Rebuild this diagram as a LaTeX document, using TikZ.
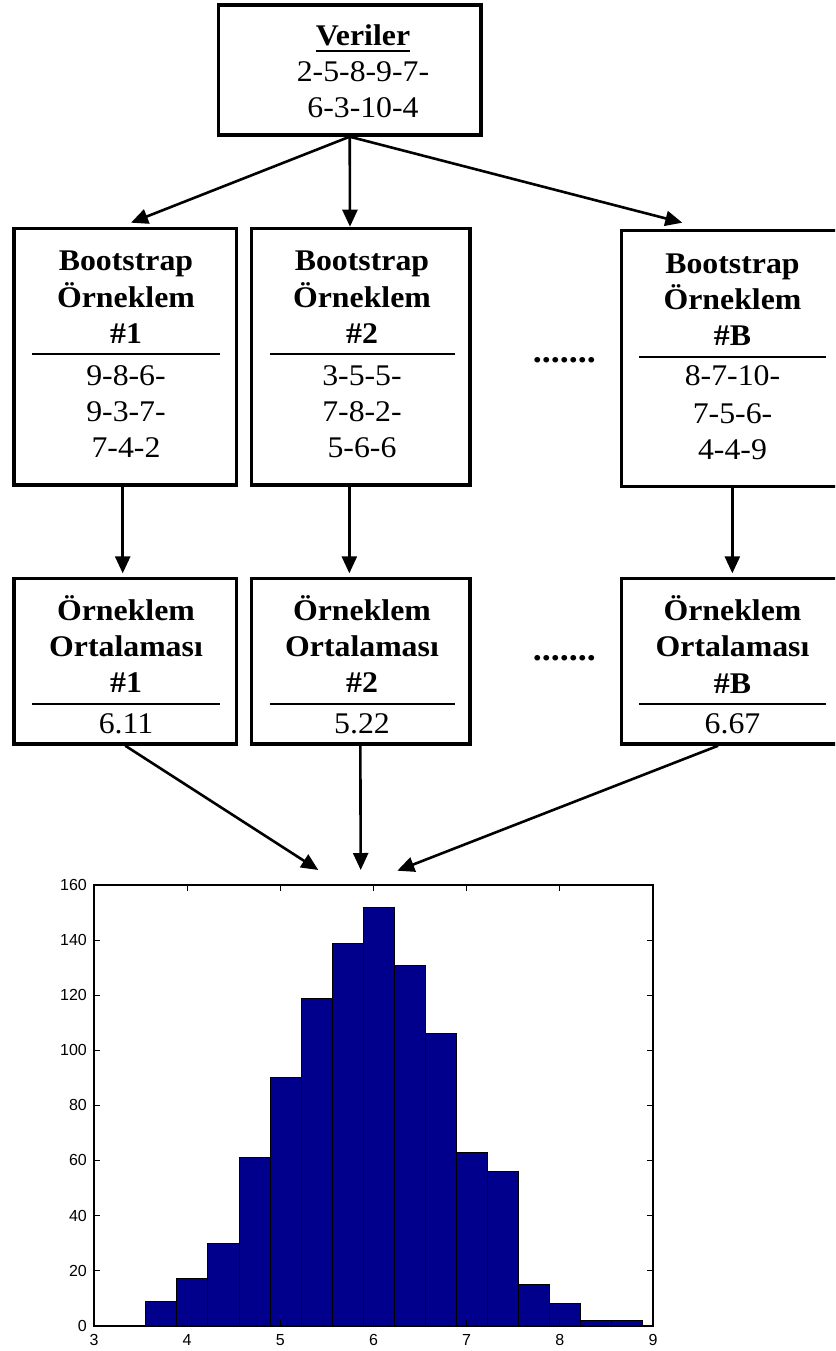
\documentclass[tikz,border=0pt]{standalone}
\usepackage{fontspec}
\setmainfont{Liberation Serif}[FakeStretch=1.06]
\newfontfamily\axfont{Liberation Sans}
\usetikzlibrary{arrows.meta}
\definecolor{barblue}{RGB}{0,0,140}
\begin{document}
\begin{tikzpicture}[x=1pt,y=-1pt,
  box/.style={draw, line width=3.4pt, rectangle, inner sep=0pt},
  txt/.style={anchor=base, inner sep=0pt, font=\fontsize{30}{34}\selectfont},
  btxt/.style={anchor=base, inner sep=0pt, font=\fontsize{30}{34}\selectfont\bfseries},
  dotstxt/.style={anchor=base, inner sep=0pt, font=\fontsize{34}{36}\selectfont\bfseries},
  rulel/.style={line width=2.2pt},
  arr/.style={line width=2.6pt, -{Triangle[length=17pt,width=15pt]}},
  tickl/.style={line width=1pt},
  ylab/.style={anchor=east, inner sep=0pt, font=\fontsize{16}{16}\selectfont\axfont},
  xlab/.style={anchor=base, inner sep=0pt, font=\fontsize{16}{16}\selectfont\axfont},
]
\useasboundingbox (0,0) rectangle (835,1351);
\clip (0,0) rectangle (835,1351);
\fill[white] (0,0) rectangle (835,1351);

% ---- data box
\node[box, minimum width=262.7pt, minimum height=130pt] (data) at (349.7,70) {};
\node[btxt] (vt) at (363,46) {Veriler};
\draw[line width=2.8pt] ([yshift=-5pt]vt.base west) -- ([yshift=-5pt]vt.base east);
\node[txt] (d1) at (363,82) {2-5-8-9-7-};
\node[txt] (d2) at (363,118) {6-3-10-4};

% ---- bootstrap boxes
\node[box, minimum width=222.7pt, minimum height=256.7pt] (b1) at (125.3,356.7) {};
\node[box, minimum width=218.3pt, minimum height=256.7pt] (b2) at (360.85,356.7) {};
\node[box, minimum width=221.3pt, minimum height=256pt] (bB) at (732.35,358.7) {};

\node[btxt] (b1a) at (126,270) {Bootstrap};
\node[btxt] (b1b) at (126,307) {Örneklem};
\node[btxt] (b1c) at (126,343.3) {\#1};
\draw[rulel] (32,354) -- (220,354);
\node[txt] (b1d) at (126,385) {9-8-6-};
\node[txt] (b1e) at (126,421.7) {9-3-7-};
\node[txt] (b1f) at (126,457.3) {7-4-2};

\node[btxt] (b2a) at (362,270) {Bootstrap};
\node[btxt] (b2b) at (362,307) {Örneklem};
\node[btxt] (b2c) at (362,343.3) {\#2};
\draw[rulel] (270,354) -- (455,354);
\node[txt] (b2d) at (362,385) {3-5-5-};
\node[txt] (b2e) at (362,421.7) {7-8-2-};
\node[txt] (b2f) at (362,457.3) {5-6-6};

\node[btxt] (bBa) at (732.5,273.3) {Bootstrap};
\node[btxt] (bBb) at (732.5,309) {Örneklem};
\node[btxt] (bBc) at (732.5,345) {\#B};
\draw[rulel] (639,356.7) -- (826,356.7);
\node[txt] (bBd) at (732.5,385.7) {8-7-10-};
\node[txt] (bBe) at (732.5,423) {7-5-6-};
\node[txt] (bBf) at (732.5,459) {4-4-9};

\node[dotstxt] (dots1) at (564.3,362.7) {.......};

% ---- mean boxes
\node[box, minimum width=222.7pt, minimum height=165.7pt] (m1) at (125.3,661.2) {};
\node[box, minimum width=218.3pt, minimum height=165.7pt] (m2) at (360.85,661.2) {};
\node[box, minimum width=221.3pt, minimum height=165.7pt] (mB) at (732.35,661.2) {};

\node[btxt] (m1a) at (126,620) {Örneklem};
\node[btxt] (m1b) at (126,656.7) {Ortalaması};
\node[btxt] (m1c) at (126,692.7) {\#1};
\draw[rulel] (32,704) -- (220,704);
\node[txt] (m1d) at (126,733.3) {6.11};

\node[btxt] (m2a) at (362,620) {Örneklem};
\node[btxt] (m2b) at (362,656.7) {Ortalaması};
\node[btxt] (m2c) at (362,692.7) {\#2};
\draw[rulel] (270,704) -- (455,704);
\node[txt] (m2d) at (362,733.3) {5.22};

\node[btxt] (mBa) at (732.5,620) {Örneklem};
\node[btxt] (mBb) at (732.5,656.7) {Ortalaması};
\node[btxt] (mBc) at (732.5,693.3) {\#B};
\draw[rulel] (639,704) -- (826,704);
\node[txt] (mBd) at (732.5,733) {6.67};

\node[dotstxt] (dots2) at (564.3,660) {.......};

% ---- arrows
\coordinate (t1) at (131,222.7);
\coordinate (t2) at (350,226.7);
\coordinate (t3) at (682.3,222.7);
\draw[arr] (data.south) -- (t1);
\draw[arr] (data.south) -- (t2);
\draw[arr] (data.south) -- (t3);

\draw[arr] ([xshift=-2.6pt]b1.south) -- ([xshift=-2.6pt,yshift=3.3pt]m1.north);
\draw[arr] ([xshift=-11.5pt]b2.south) -- ([xshift=-11.5pt,yshift=3.3pt]m2.north);
\draw[arr] (bB.south) -- ([yshift=3.3pt]mB.north);

\coordinate (h1) at (318.3,870);
\coordinate (h2) at (360.7,870);
\coordinate (h3) at (397.3,870.7);
\draw[arr] (m1.south) -- (h1);
\draw[arr] ([xshift=-0.5pt]m2.south) -- (h2);
\draw[arr] ([xshift=-14.3pt]mB.south) -- (h3);

% ---- histogram
\begin{scope}[shift={(-185.51,1325.7)}, x=93.17pt, y=2.754pt]
  \foreach \c [count=\i from 0] in {9,17,30,61,90,119,139,152,131,106,63,56,15,8,2,2}
    \draw[line width=0.8pt, fill=barblue] ({32/9+\i/3},0) rectangle ({32/9+(\i+1)/3},\c);
  \draw[line width=1.6pt] (3,0) rectangle (9,160);
  \foreach \v in {0,20,...,160} {
    \draw[tickl] (3,\v) -- ++(6pt,0);
    \draw[tickl] (9,\v) -- ++(-6pt,0);
    \node[ylab] (yl\v) at ([xshift=-7pt]3,\v) {\v};
  }
  \foreach \u in {3,...,9} {
    \draw[tickl] (\u,0) -- ++(0,6pt);
    \draw[tickl] (\u,160) -- ++(0,-6pt);
    \node[xlab] (xl\u) at ([yshift=-19.5pt]\u,0) {\u};
  }
\end{scope}
\end{tikzpicture}
\end{document}
